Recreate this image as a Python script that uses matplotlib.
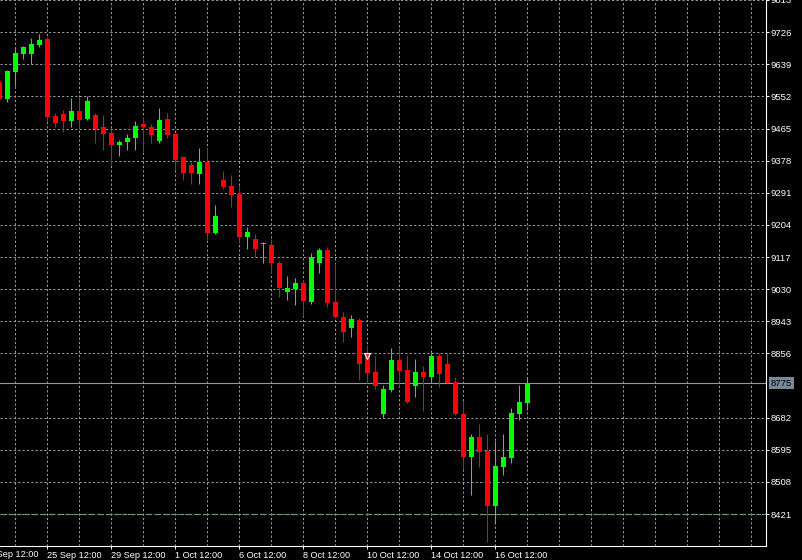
import matplotlib
matplotlib.use("Agg")
import matplotlib.pyplot as plt
import numpy as np

# ---- data ----
opens = [9591, 9545, 9618, 9666, 9668, 9691, 9707, 9499, 9504, 9486, 9512, 9490,
         9501, 9468, 9452, 9420, 9428, 9440, 9477, 9468, 9432, 9491, 9450, 9387,
         9366, 9343, 9375, 9183, 9325, 9309, 9288, 9172, 9165, 9152, 9149, 9100,
         9023, 9030, 9048, 8996, 9102, 9136, 8994, 8955, 8926, 8946, 8852, 8806,
         8692, 8757, 8838, 8811, 8768, 8805, 8791, 8849, 8827, 8778, 8692, 8575,
         8630, 8592, 8444, 8549, 8574, 8692, 8722]
highs = [9600, 9624, 9685, 9688, 9709, 9720, 9712, 9506, 9515, 9547, 9551, 9553,
         9508, 9501, 9463, 9434, 9450, 9486, 9497, 9477, 9520, 9506, 9453, 9390,
         9375, 9411, 9411, 9258, 9350, 9339, 9312, 9197, 9179, 9158, 9167, 9107,
         9066, 9059, 9056, 9127, 9141, 9143, 9100, 8969, 8960, 8951, 8879, 8849,
         8770, 8872, 8873, 8852, 8840, 8822, 8856, 8856, 8856, 8793, 8728, 8638,
         8665, 8638, 8620, 8638, 8707, 8770, 8791]
lows = [9540, 9537, 9580, 9652, 9641, 9685, 9483, 9468, 9456, 9468, 9465, 9488,
        9425, 9408, 9366, 9390, 9408, 9406, 9402, 9426, 9425, 9438, 9352, 9325,
        9316, 9315, 9163, 9179, 9300, 9253, 9156, 9140, 9118, 9101, 9074, 9008,
        9002, 8987, 8957, 8990, 9073, 8982, 8951, 8888, 8900, 8784, 8775, 8761,
        8680, 8752, 8766, 8721, 8739, 8701, 8779, 8766, 8775, 8689, 8542, 8473,
        8548, 8346, 8396, 8526, 8558, 8676, 8703]
closes = [9546, 9621, 9670, 9685, 9694, 9706, 9495, 9481, 9486, 9512, 9488, 9539,
          9465, 9450, 9420, 9428, 9440, 9472, 9468, 9447, 9488, 9447, 9381, 9345,
          9345, 9375, 9183, 9228, 9306, 9285, 9172, 9185, 9139, 9155, 9100, 9032,
          9032, 9046, 8999, 9118, 9136, 8993, 8955, 8915, 8949, 8827, 8804, 8768,
          8761, 8838, 8809, 8725, 8805, 8791, 8849, 8799, 8777, 8691, 8575, 8630,
          8588, 8444, 8551, 8576, 8696, 8725, 8775]

price_levels = [8421, 8508, 8595, 8682, 8856, 8943, 9030, 9117, 9204, 9291,
                9378, 9465, 9552, 9639, 9726, 9813]
date_labels = ["23 Sep 12:00", "25 Sep 12:00", "29 Sep 12:00", "1 Oct 12:00",
               "6 Oct 12:00", "8 Oct 12:00", "10 Oct 12:00", "14 Oct 12:00",
               "16 Oct 12:00"]
date_bar_index = [-3, 5, 13, 21, 29, 37, 45, 53, 61]
current_price = 8775
level_line = 8421

FONT = ["Liberation Sans", "DejaVu Sans"]
BG = "black"
GRID = "#9c9c9c"
UP = "#00ff00"
DN = "#ff0000"

fig = plt.figure(figsize=(8.03, 5.60), dpi=100, facecolor=BG)
ax = fig.add_axes([0, 14 / 560, 766 / 803, 546 / 560], facecolor=BG)

n = len(opens)
x = np.arange(n) - 1
o = np.array(opens, float)
h = np.array(highs, float)
l = np.array(lows, float)
c = np.array(closes, float)

xmin, xmax = -0.9125, 94.84
ymin, ymax = 8334.6, 9813.0
ax.set_xlim(xmin, xmax)
ax.set_ylim(ymin, ymax)

# grid
for gx in range(1, 95, 4):
    ax.axvline(gx, color=GRID, lw=0.72, ls=(0, (2.2, 2.2)), zorder=1)
for p in price_levels:
    ax.axhline(p, color=GRID, lw=0.72, ls=(0, (2.2, 2.2)), zorder=1)

# level line (green dashed)
ax.axhline(level_line, color="#5f9f5f", lw=0.9, ls=(0, (4, 2.5)), zorder=2)

# current price line
ax.axhline(current_price, color="#8a9aaa", lw=0.8, zorder=2)

# candles
up = c >= o
cols = np.where(up, UP, DN)
ax.vlines(x, l, h, colors=cols, lw=0.75, zorder=3)
body_lo = np.minimum(o, c)
body_h = np.maximum(np.abs(c - o), 2.7)
ax.bar(x, body_h, bottom=body_lo, width=0.62, color=cols, edgecolor=cols,
       linewidth=0, zorder=4)

# small cursor marker
ax.plot([45], [8850], marker="v", ms=5, color="#ff2020", mec="white", mew=0.8,
        zorder=5)

# spines
for s in ["top", "left"]:
    ax.spines[s].set_visible(False)
for s in ["right", "bottom"]:
    ax.spines[s].set_color("white")
    ax.spines[s].set_linewidth(0.8)

# y axis on the right
ax.yaxis.tick_right()
ax.set_yticks(price_levels)
ax.set_yticklabels([str(p) for p in price_levels])
ax.tick_params(axis="y", colors="white", length=2.5, width=0.7, pad=1,
               labelsize=6.8, direction="out")
for t in ax.get_yticklabels():
    t.set_fontfamily(FONT)

# x axis
vis_idx = [i for i in date_bar_index if i >= xmin]
vis_lab = [lab for i, lab in zip(date_bar_index, date_labels) if i >= xmin]
ax.set_xticks(vis_idx)
ax.set_xticklabels(vis_lab)
ax.tick_params(axis="x", colors="white", length=2.5, width=0.7, pad=1,
               labelsize=6.6, direction="out")
for t in ax.get_xticklabels():
    t.set_ha("left")
    t.set_fontfamily(FONT)
for i, lab in zip(date_bar_index, date_labels):
    if i < xmin:
        ax.annotate(lab, xy=(i, 0), xycoords=("data", "axes fraction"),
                    xytext=(0.5, -2.9), textcoords="offset points",
                    ha="left", va="top", color="white", fontsize=6.6,
                    family=FONT, annotation_clip=False)

# current price box
ax.annotate(str(current_price), xy=(1, current_price),
            xycoords=("axes fraction", "data"), xytext=(3.5, 0),
            textcoords="offset points", ha="left", va="center",
            color="black", fontsize=6.8, family=FONT, annotation_clip=False,
            bbox=dict(boxstyle="square,pad=0.15", fc="#778899", ec="none"))

fig.savefig("out.png", dpi=100, facecolor=BG)
